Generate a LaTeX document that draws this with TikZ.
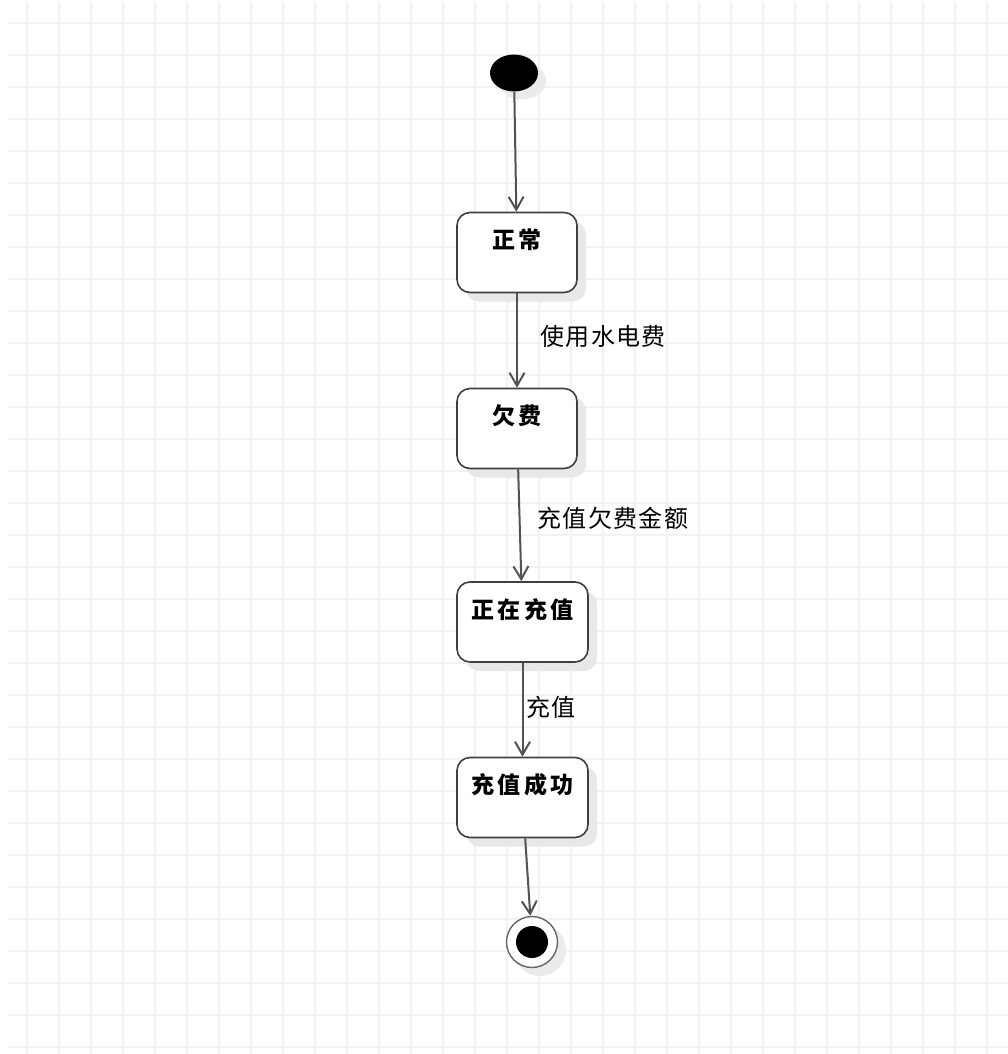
\documentclass[tikz,border=0pt]{standalone}
\usepackage{fontspec}
\newfontfamily\cjk{Noto Sans CJK SC}
\usetikzlibrary{arrows.meta,shapes.geometric,shadows}
\tikzset{
grid line/.style={color=black!5, line width=1.6pt},
statebox/.style={draw=black!75, line width=1.6pt, fill=white,
  rounded corners=13pt, minimum width=120pt, inner sep=0pt,
  text height=36pt, text depth=44pt,
  font=\cjk\bfseries\fontsize{23}{23}\selectfont\addfontfeature{LetterSpace=14},
  drop shadow={shadow xshift=9pt, shadow yshift=-9pt, fill=black!9, opacity=1}},
translabel/.style={anchor=west, inner sep=0pt, font=\cjk\fontsize{24}{24}\selectfont\addfontfeature{LetterSpace=6}},
trans/.style={-{Straight Barb[length=13pt,width=15pt]}, color=black!68, line width=2pt}}

\begin{document}
\begin{tikzpicture}[x=1pt, y=-1pt]
        \useasboundingbox (0,0) rectangle (1008,1054);
        \fill[white] (0,0) rectangle (1008,1054);
        % background grid
        \foreach \gx in {27,59,...,1003} \draw[grid line] (\gx,2) -- (\gx,1054);
        \foreach \gy in {23,55,...,1050} \draw[grid line] (8,\gy) -- (1008,\gy);
        % states
        \fill[black!8] (522,81) ellipse (24pt and 18.5pt);
        \node[ellipse, fill=black, minimum width=48pt, minimum height=37pt, inner sep=0pt] (init) at (514,73) {};
        \node[statebox] (normal) at (517,252.5) {正常};
        \node[statebox] (owing) at (517,428.5) {欠费};
        \node[statebox, minimum width=131pt] (paying) at (522.5,622) {正在充值};
        \node[statebox, minimum width=131pt] (paid) at (522.5,797.5) {充值成功};
        \fill[black!8] (540,950) circle (26pt);
        \node[circle, draw=black!60, line width=1.4pt, fill=white, minimum size=51pt, inner sep=0pt,
              path picture={\fill[black] (path picture bounding box.center) circle (16pt);}] (final) at (532,942) {};
        % transitions
        \draw[trans] (init) -- (normal);
        \draw[trans] (normal) -- (owing);
        \draw[trans] (owing) -- (paying);
        \draw[trans] (paying) -- (paid);
        \draw[trans] (paid) -- (final);
        \node[translabel] (use) at (540,336) {使用水电费};
        \node[translabel] (topup) at (537,518) {充值欠费金额};
        \node[translabel] (pay) at (526,707) {充值};
    \end{tikzpicture}
\end{document}
